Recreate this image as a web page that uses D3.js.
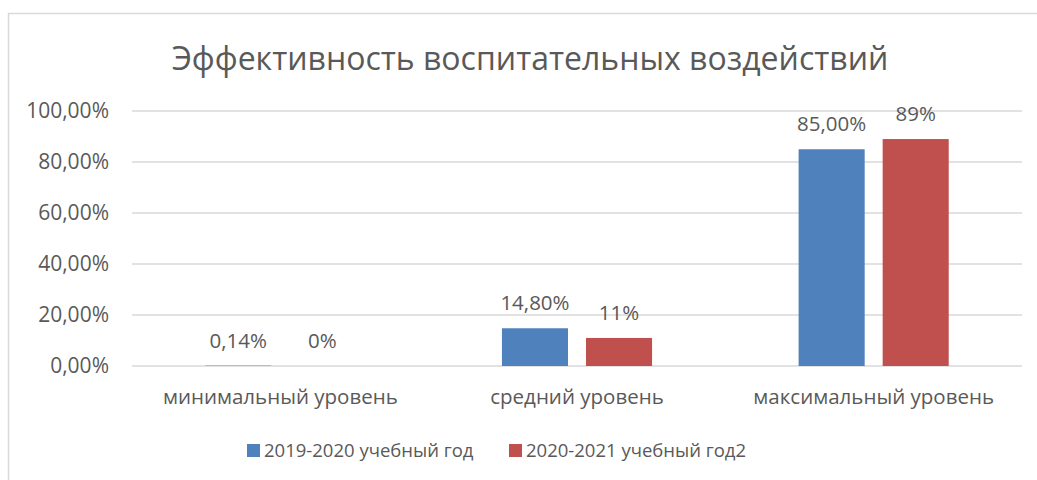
<!DOCTYPE html>
<html>
<head>
<meta charset="utf-8">
<script src="https://cdn.jsdelivr.net/npm/d3@7"></script>
<style>
  body { margin: 0; background: #fff; }
  text { font-family: "Open Sans", sans-serif; fill: #595959; }
</style>
</head>
<body>
<div id="chart"></div>
<script>
const title = 'Эффективность воспитательных воздействий'
const categories = ['минимальный уровень', 'средний уровень', 'максимальный уровень']
const seriesNames = ['2019-2020 учебный год', '2020-2021 учебный год2']
const values2019 = [0.14, 14.8, 85]
const values2020 = [0, 11, 89]
const labels2019 = ['0,14%', '14,80%', '85,00%']
const labels2020 = ['0%', '11%', '89%']
const yTicks = [0, 20, 40, 60, 80, 100]
const colors = ['#4F81BD', '#C0504D']

const width = 1037
const height = 480
const plot = { left: 132, right: 1022, top: 111, bottom: 366 }

const svg = d3.select('#chart').append('svg')
  .attr('width', width)
  .attr('height', height)

// chart area border (only top and left show in the crop)
svg.append('rect')
  .attr('x', 8.5).attr('y', 13.5)
  .attr('width', 1100).attr('height', 600)
  .attr('fill', 'none')
  .attr('stroke', '#d9d9d9')
  .attr('stroke-width', 1.5)

svg.append('text')
  .attr('x', 530).attr('y', 70)
  .attr('text-anchor', 'middle')
  .style('font-size', '32px')
  .text(title)

const x0 = d3.scaleBand().domain(categories).range([plot.left, plot.right])
const bw = x0.bandwidth()
// two bars plus gap take about half of each category band
const x1 = d3.scaleBand().domain([0, 1]).range([bw * 0.247, bw * 0.753]).paddingInner(0.214)
const y = d3.scaleLinear().domain([0, 100]).range([plot.bottom, plot.top])

// gridlines
svg.append('g').selectAll('line').data(yTicks).join('line')
  .attr('x1', plot.left).attr('x2', plot.right)
  .attr('y1', d => y(d)).attr('y2', d => y(d))
  .attr('stroke', '#d9d9d9').attr('stroke-width', 1.5)

// y tick labels
const fmt = d => d.toFixed(2).replace('.', ',') + '%'
svg.append('g').selectAll('text').data(yTicks).join('text')
  .attr('x', 109).attr('y', d => y(d) + 7)
  .attr('text-anchor', 'end')
  .style('font-size', '21px')
  .text(fmt)

const series = [
  { name: seriesNames[0], values: values2019, labels: labels2019 },
  { name: seriesNames[1], values: values2020, labels: labels2020 }
]

const groups = svg.append('g').selectAll('g').data(series).join('g')
  .attr('fill', (d, i) => colors[i])

groups.each(function (s, si) {
  const g = d3.select(this)
  g.selectAll('rect').data(s.values).join('rect')
    .attr('x', (v, i) => x0(categories[i]) + x1(si))
    .attr('width', x1.bandwidth())
    .attr('y', v => y(v))
    .attr('height', v => y(0) - y(v))
  g.selectAll('text').data(s.values).join('text')
    .attr('x', (v, i) => x0(categories[i]) + x1(si) + x1.bandwidth() / 2)
    .attr('y', v => y(v) - 18)
    .attr('text-anchor', 'middle')
    .style('font-size', '20.5px')
    .text((v, i) => s.labels[i])
})

// category labels
svg.append('g').selectAll('text').data(categories).join('text')
  .attr('x', d => x0(d) + bw / 2)
  .attr('y', 404)
  .attr('text-anchor', 'middle')
  .style('font-size', '20.5px')
  .text(d => d)

// legend
const legendX = [247, 509]
const legend = svg.append('g').selectAll('g').data(seriesNames).join('g')
  .attr('transform', (d, i) => `translate(${legendX[i]},444)`)
legend.append('rect')
  .attr('width', 13).attr('height', 13)
  .attr('fill', (d, i) => colors[i])
legend.append('text')
  .attr('x', 17).attr('y', 13)
  .style('font-size', '18.5px')
  .text(d => d)
</script>
</body>
</html>
